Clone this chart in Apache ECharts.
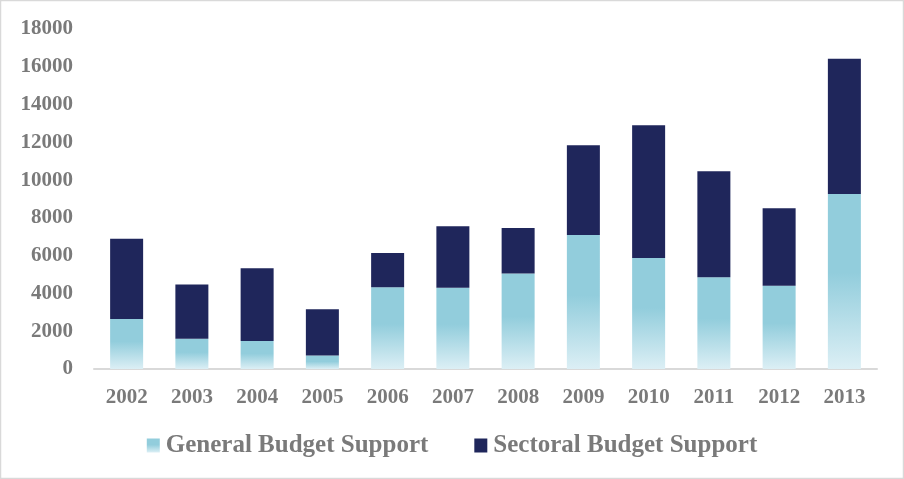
<!DOCTYPE html>
<html>
<head>
<meta charset="utf-8">
<script src="https://cdn.jsdelivr.net/npm/echarts@6/dist/echarts.min.js"></script>
<style>
html,body{margin:0;padding:0;background:#fff;}
#chart{width:904px;height:479px;}
</style>
</head>
<body>
<div id="chart"></div>
<script>
const years = ['2002','2003','2004','2005','2006','2007','2008','2009','2010','2011','2012','2013'];
const generalBudget = [2650, 1600, 1480, 720, 4330, 4300, 5050, 7100, 5880, 4860, 4410, 9270];
const sectoralBudget = [4250, 2880, 3850, 2440, 1810, 3260, 2410, 4740, 7020, 5610, 4100, 7160];
const seriesNames = ['General Budget Support', 'Sectoral Budget Support'];

const textColor = '#7a7a7a';
const fontFam = '"Liberation Serif", "Times New Roman", serif';
const gbsGradient = new echarts.graphic.LinearGradient(0, 0, 0, 1, [
  {offset: 0, color: '#92CDDC'},
  {offset: 0.45, color: '#92CDDC'},
  {offset: 1, color: '#DCEFF5'}
]);

const chart = echarts.init(document.getElementById('chart'), null, {renderer: 'canvas'});
chart.setOption({
  animation: false,
  backgroundColor: '#ffffff',
  graphic: [{
    type: 'rect', silent: true,
    shape: {x: 0.5, y: 0.5, width: 903, height: 478},
    style: {fill: 'none', stroke: '#d9d9d9', lineWidth: 1.5}
  }],
  grid: {left: 94, right: 27, top: 29, bottom: 110, containLabel: false},
  legend: {
    bottom: 16,
    left: 'center',
    icon: 'rect',
    itemWidth: 13,
    itemHeight: 14,
    itemGap: 46,
    textStyle: {color: textColor, fontFamily: fontFam, fontWeight: 'bold', fontSize: 25, padding: [0,0,0,1]},
    data: seriesNames
  },
  xAxis: {
    type: 'category',
    data: years,
    axisLine: {show: true, lineStyle: {color: '#d9d9d9', width: 2}},
    axisTick: {show: false},
    axisLabel: {color: textColor, fontFamily: fontFam, fontWeight: 'bold', fontSize: 21, margin: 18}
  },
  yAxis: {
    type: 'value',
    min: 0, max: 18000, interval: 2000,
    axisLine: {show: false},
    axisTick: {show: false},
    splitLine: {show: false},
    axisLabel: {color: textColor, fontFamily: fontFam, fontWeight: 'bold', fontSize: 21, margin: 21,
      formatter: function (v) { return String(v); }}
  },
  series: [
    {
      name: seriesNames[0], type: 'bar', stack: 'total', barWidth: 33,
      data: generalBudget,
      itemStyle: {color: gbsGradient}
    },
    {
      name: seriesNames[1], type: 'bar', stack: 'total', barWidth: 33,
      data: sectoralBudget,
      itemStyle: {color: '#1F265B'}
    }
  ]
});
</script>
</body>
</html>
